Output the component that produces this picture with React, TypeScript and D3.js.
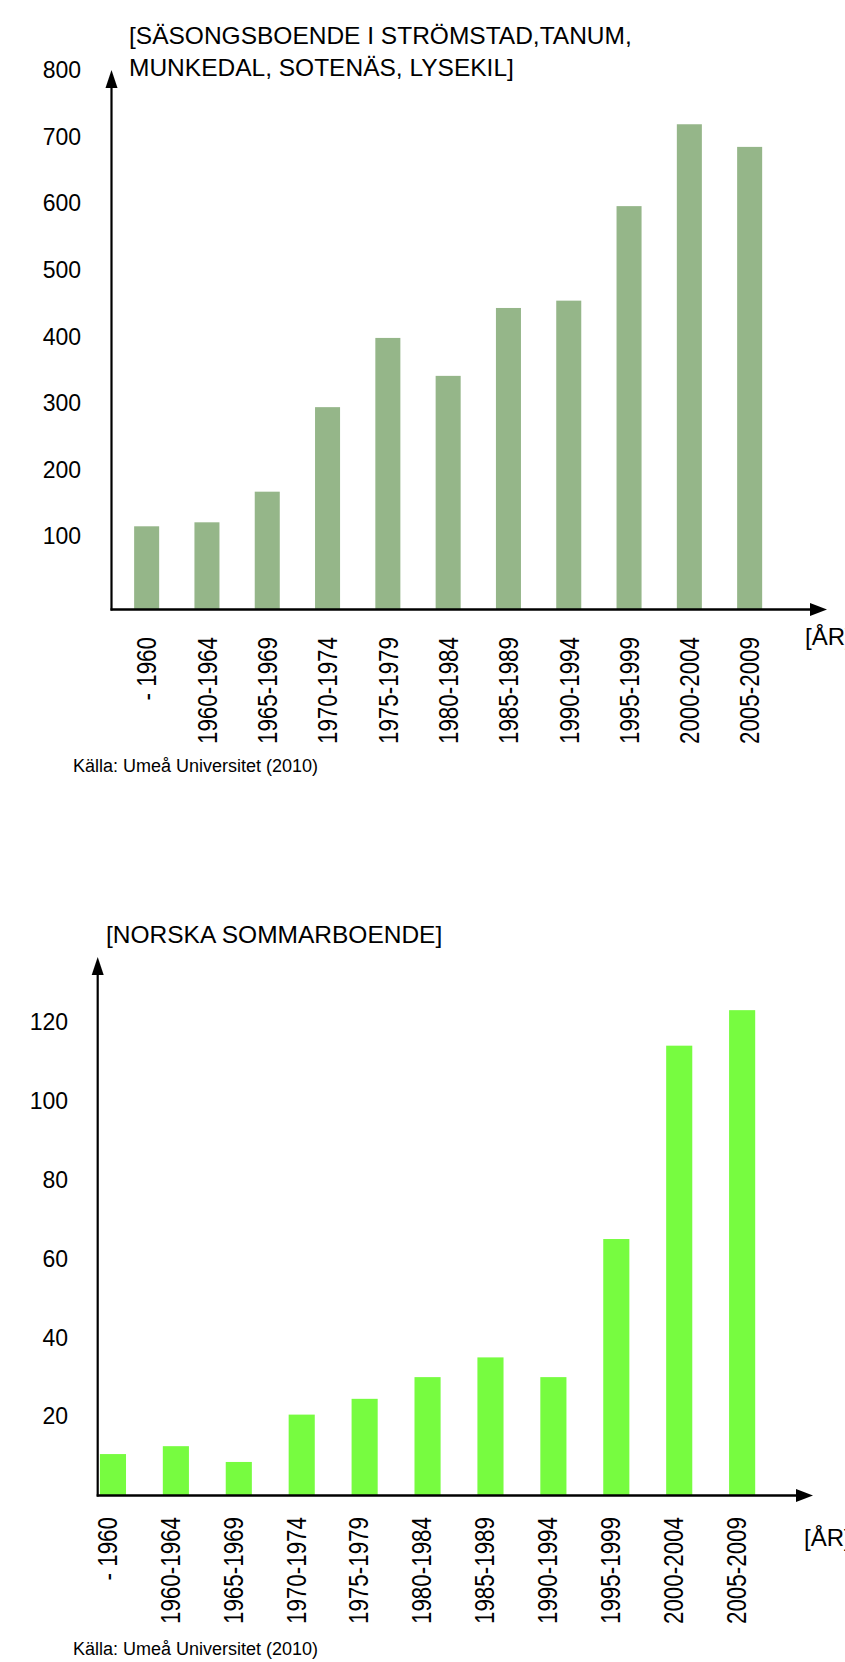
import React, { useEffect, useRef } from 'react';
import * as d3 from 'd3';

// period categories, shared by both charts
const periods = [
  '- 1960', '1960-1964', '1965-1969', '1970-1974', '1975-1979', '1980-1984',
  '1985-1989', '1990-1994', '1995-1999', '2000-2004', '2005-2009'
];

// seasonal homes in Strömstad, Tanum, Munkedal, Sotenäs, Lysekil
const seasonalValues = [125, 131, 177, 304, 408, 351, 453, 464, 606, 729, 695];
const seasonalTicks = [100, 200, 300, 400, 500, 600, 700, 800];
const seasonalTitle = ['[SÄSONGSBOENDE I STRÖMSTAD,TANUM,', 'MUNKEDAL, SOTENÄS, LYSEKIL]'];

// Norwegian summer home owners
const norwegianValues = [10.5, 12.5, 8.5, 20.5, 24.5, 30, 35, 30, 65, 114, 123];
const norwegianTicks = [20, 40, 60, 80, 100, 120];
const norwegianTitle = ['[NORSKA SOMMARBOENDE]'];

const xTitle = '[ÅR]';
const sourceText = 'Källa: Umeå Universitet (2010)';

const FONT = '"Liberation Sans", Arial, sans-serif';

const charts = [
  {
    values: seasonalValues, ticks: seasonalTicks, title: seasonalTitle, color: '#95b689',
    yMax: 800, axisX: 111.5, axisY: 609.5, topY: 77, arrowTop: 70, arrowRight: 827,
    bandStart: 116.5, bandEnd: 779.8, tickRight: 81, tickShift: -6.6,
    titleX: 129, titleY: 44, labelTop: 637, labelShift: 0,
    unitX: 805, unitY: 645, sourceY: 772
  },
  {
    values: norwegianValues, ticks: norwegianTicks, title: norwegianTitle, color: '#77fc40',
    yMax: 120, axisX: 97.7, axisY: 1495.5, topY: 1022, arrowTop: 957, arrowRight: 813,
    bandStart: 81.5, bandEnd: 773.6, tickRight: 68, tickShift: 0,
    titleX: 106, titleY: 943, labelTop: 1517, labelShift: -6,
    unitX: 804, unitY: 1546, sourceY: 1655
  }
];

function drawChart(svg, c) {
  const g = svg.append('g');

  const x = d3.scaleBand()
    .domain(periods)
    .range([c.bandStart, c.bandEnd])
    .paddingInner(0.585)
    .paddingOuter(0.2925);
  const y = d3.scaleLinear()
    .domain([0, c.yMax])
    .range([c.axisY, c.topY]);

  // title
  g.append('text')
    .attr('x', c.titleX)
    .attr('y', c.titleY)
    .style('font-family', FONT)
    .style('font-size', '24.5px')
    .selectAll('tspan')
    .data(c.title)
    .enter()
    .append('tspan')
    .attr('x', c.titleX)
    .attr('dy', (d, i) => i === 0 ? 0 : 32)
    .text(d => d);

  // bars
  g.selectAll('rect')
    .data(c.values)
    .enter()
    .append('rect')
    .attr('x', (d, i) => x(periods[i]))
    .attr('y', d => y(d))
    .attr('width', x.bandwidth())
    .attr('height', d => y(0) - y(d))
    .style('fill', c.color);

  // y tick labels
  const yAxis = g.append('g')
    .attr('transform', `translate(${c.tickRight}, ${c.tickShift})`)
    .call(d3.axisLeft(y).tickValues(c.ticks).tickSize(0).tickPadding(0).tickFormat(d3.format('d')));
  yAxis.select('.domain').remove();
  yAxis.selectAll('text')
    .attr('fill', '#000')
    .style('font-family', FONT)
    .style('font-size', '23px');

  // axes with arrow heads
  g.append('line')
    .attr('x1', c.axisX).attr('x2', c.axisX)
    .attr('y1', c.axisY + 1).attr('y2', c.arrowTop + 10)
    .attr('stroke', '#000').attr('stroke-width', 2.2);
  g.append('path')
    .attr('d', `M${c.axisX},${c.arrowTop} L${c.axisX - 6},${c.arrowTop + 18} L${c.axisX + 6},${c.arrowTop + 18} Z`)
    .attr('fill', '#000');
  g.append('line')
    .attr('x1', c.axisX - 1).attr('x2', c.arrowRight - 10)
    .attr('y1', c.axisY).attr('y2', c.axisY)
    .attr('stroke', '#000').attr('stroke-width', 2.3);
  g.append('path')
    .attr('d', `M${c.arrowRight},${c.axisY} L${c.arrowRight - 17},${c.axisY - 6.5} L${c.arrowRight - 17},${c.axisY + 6.5} Z`)
    .attr('fill', '#000');

  // rotated period labels, squeezed along the reading direction
  g.selectAll('.period')
    .data(periods)
    .enter()
    .append('text')
    .attr('class', 'period')
    .attr('transform', d => `translate(${x(d) + x.bandwidth() / 2 + c.labelShift}, ${c.labelTop}) rotate(-90) scale(0.8, 1)`)
    .attr('text-anchor', 'end')
    .attr('dy', '0.35em')
    .style('font-family', FONT)
    .style('font-size', '28px')
    .text(d => d);

  // unit label
  g.append('text')
    .attr('x', c.unitX)
    .attr('y', c.unitY)
    .style('font-family', FONT)
    .style('font-size', '24px')
    .text(xTitle);

  // source
  g.append('text')
    .attr('x', 73)
    .attr('y', c.sourceY)
    .style('font-family', FONT)
    .style('font-size', '18px')
    .text(sourceText);
}

export default function App() {
  const ref = useRef(null);

  useEffect(() => {
    const svg = d3.select(ref.current);
    svg.selectAll('*').remove();
    charts.forEach(c => drawChart(svg, c));
  }, []);

  return (
    <svg
      ref={ref}
      width={845}
      height={1662}
      style={{ position: 'absolute', left: 0, top: 0, display: 'block', background: '#fff' }}
    />
  );
}
